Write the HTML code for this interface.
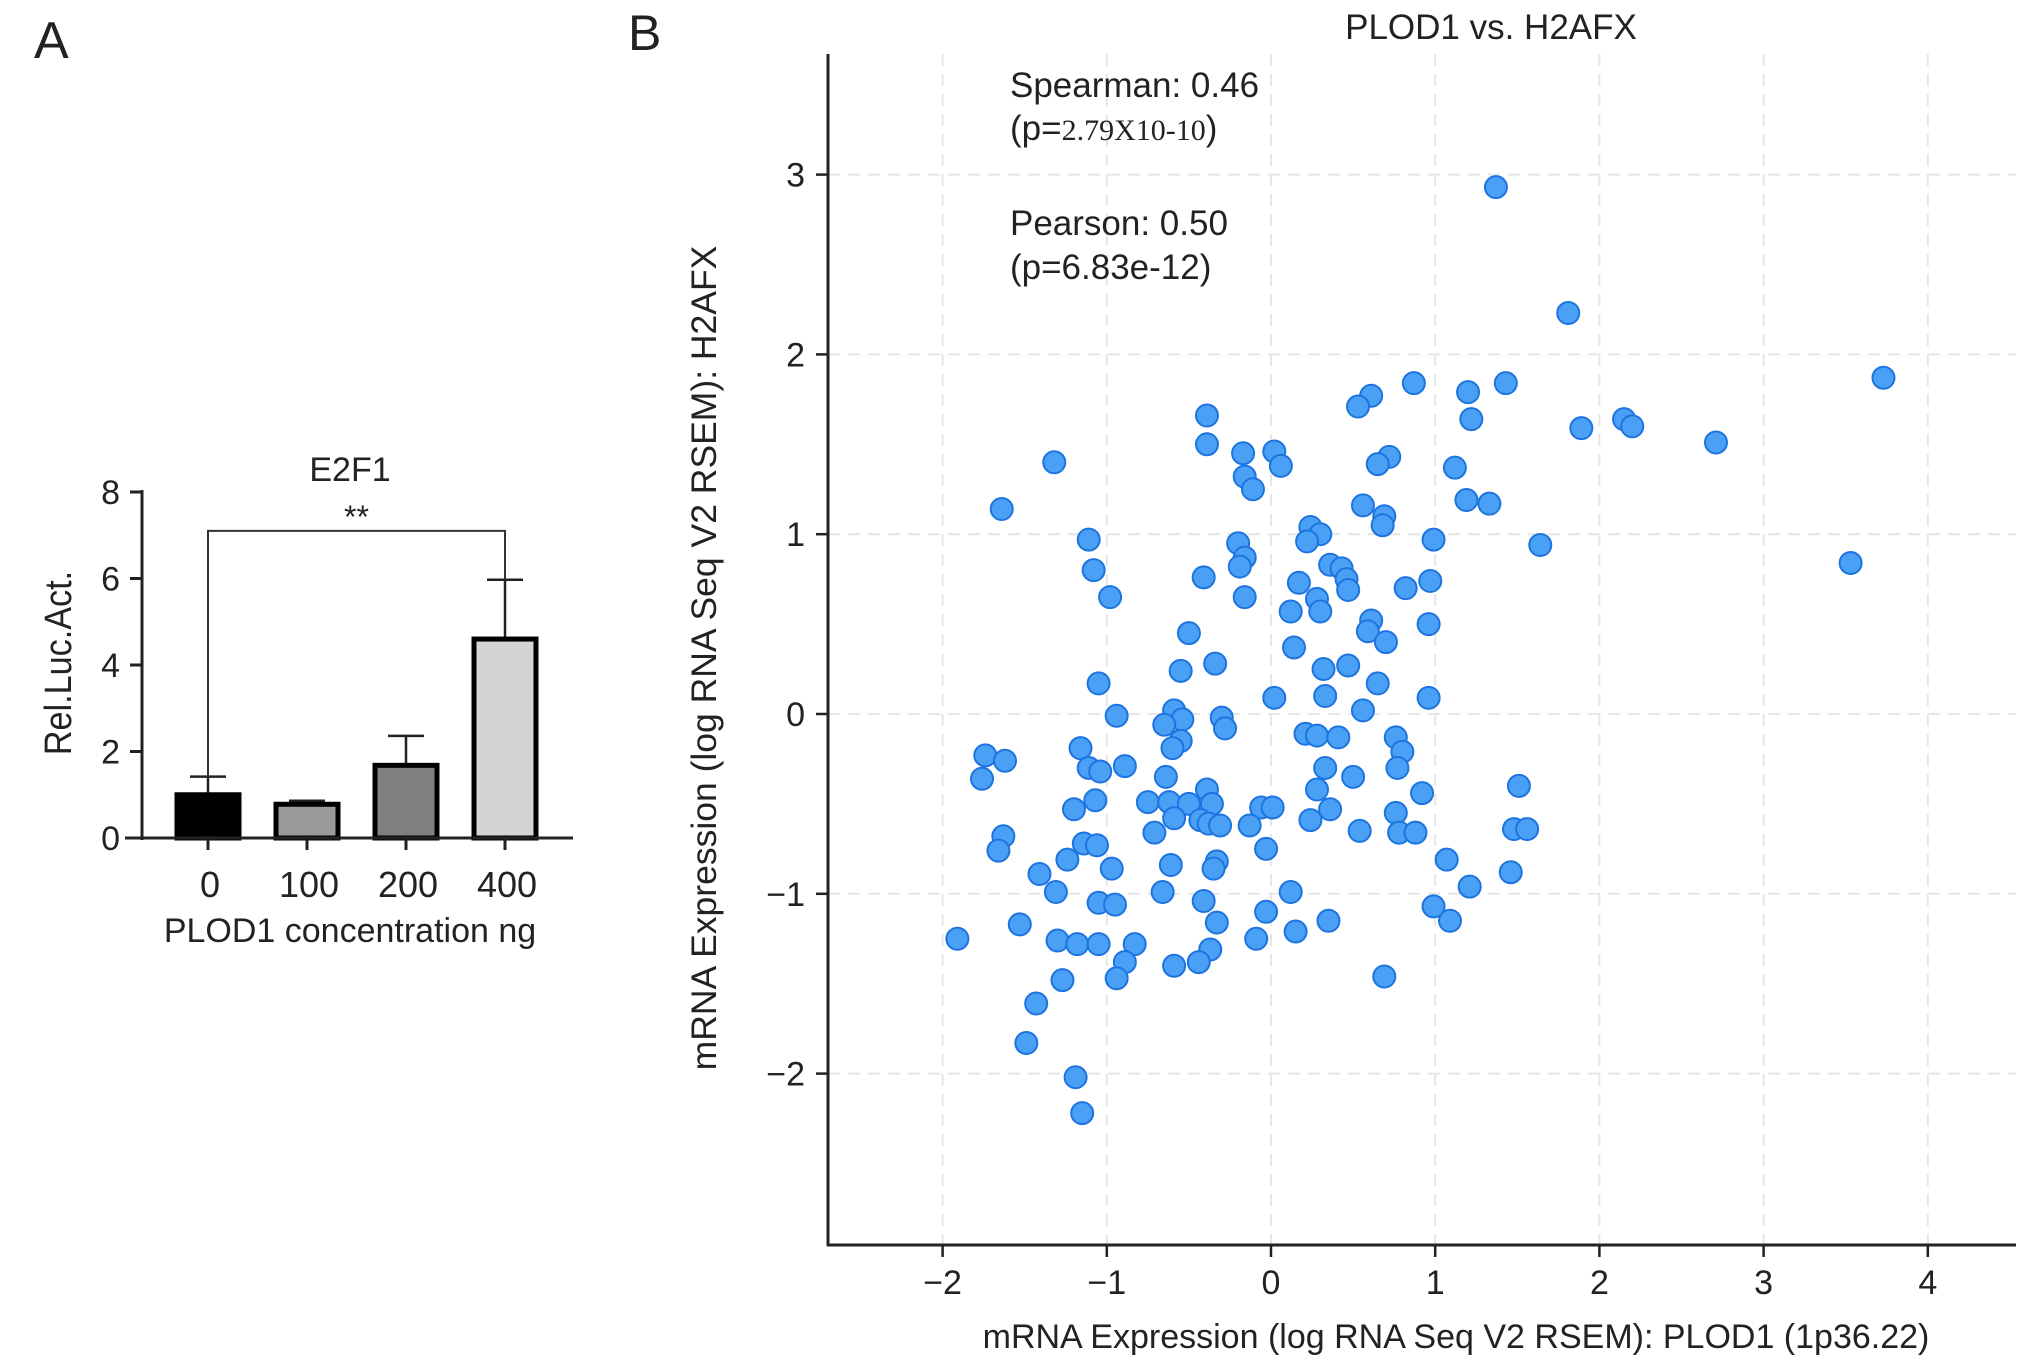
<!DOCTYPE html>
<html><head><meta charset="utf-8"><style>
html,body{margin:0;padding:0;background:#fff}
svg{display:block}
text{font-family:"Liberation Sans",sans-serif;fill:#222}
</style></head><body>
<svg id="fig" width="2031" height="1370" viewBox="0 0 2031 1370">
<text x="34" y="58" font-size="52">A</text>
<text x="628" y="50" font-size="50">B</text>
<g id="bar"></g>
<g id="sc"></g>
</svg>
<script>
const barCats=["0","100","200","400"];
const barVals=[1.0,0.78,1.68,4.6];
const barErr=[0.42,0.08,0.68,1.37];
const barTicks=[0,2,4,6,8];
const scX=[1.37,1.81,3.73,0.87,1.43,1.20,0.61,0.53,1.22,2.15,2.20,1.89,2.71,-0.39,-0.39,-1.32,-0.17,0.02,0.06,-0.16,-0.11,0.72,0.65,1.12,1.19,1.33,0.56,0.69,0.68,-1.64,1.64,3.53,0.24,0.30,0.22,0.99,-1.11,-1.08,-0.98,-0.20,-0.16,-0.19,-0.41,-0.16,0.36,0.43,0.46,0.47,0.97,0.82,0.17,0.28,0.12,0.30,0.61,0.59,0.70,0.96,0.14,-0.50,-0.34,-0.55,0.32,0.47,0.65,-1.05,0.96,0.02,0.33,0.56,-0.94,-0.59,-0.54,-0.30,-0.28,-0.65,-0.55,-0.60,0.21,0.28,0.41,0.76,0.80,0.77,-1.16,-1.74,-1.62,-1.76,-1.11,-1.04,-0.89,0.33,0.50,-0.64,1.51,0.92,-0.39,0.28,-0.75,-0.62,-0.36,-0.50,-1.07,-1.20,-0.06,0.01,0.36,0.76,-0.59,-0.43,-0.38,-0.31,-0.13,0.24,-0.71,0.54,0.78,0.88,1.48,1.56,-1.63,-1.66,-1.14,-1.06,-0.03,-0.33,-0.35,-0.61,-1.24,-0.97,-1.41,1.07,1.46,1.21,-1.31,-0.66,0.12,-1.05,-0.95,-0.41,0.99,-0.03,-1.53,-0.33,0.35,1.09,0.15,-1.91,-1.30,-1.18,-1.05,-0.83,-0.09,-0.37,-0.89,-0.59,-0.44,-0.94,-1.27,0.69,-1.43,-1.49,-1.19,-1.15];
const scY=[2.93,2.23,1.87,1.84,1.84,1.79,1.77,1.71,1.64,1.64,1.60,1.59,1.51,1.66,1.50,1.40,1.45,1.46,1.38,1.32,1.25,1.43,1.39,1.37,1.19,1.17,1.16,1.10,1.05,1.14,0.94,0.84,1.04,1.00,0.96,0.97,0.97,0.80,0.65,0.95,0.87,0.82,0.76,0.65,0.83,0.81,0.75,0.69,0.74,0.70,0.73,0.64,0.57,0.57,0.52,0.46,0.40,0.50,0.37,0.45,0.28,0.24,0.25,0.27,0.17,0.17,0.09,0.09,0.10,0.02,-0.01,0.02,-0.03,-0.02,-0.08,-0.06,-0.15,-0.19,-0.11,-0.12,-0.13,-0.13,-0.21,-0.30,-0.19,-0.23,-0.26,-0.36,-0.30,-0.32,-0.29,-0.30,-0.35,-0.35,-0.40,-0.44,-0.42,-0.42,-0.49,-0.49,-0.50,-0.50,-0.48,-0.53,-0.52,-0.52,-0.53,-0.55,-0.58,-0.59,-0.61,-0.62,-0.62,-0.59,-0.66,-0.65,-0.66,-0.66,-0.64,-0.64,-0.68,-0.76,-0.72,-0.73,-0.75,-0.82,-0.86,-0.84,-0.81,-0.86,-0.89,-0.81,-0.88,-0.96,-0.99,-0.99,-0.99,-1.05,-1.06,-1.04,-1.07,-1.10,-1.17,-1.16,-1.15,-1.15,-1.21,-1.25,-1.26,-1.28,-1.28,-1.28,-1.25,-1.31,-1.38,-1.40,-1.38,-1.47,-1.48,-1.46,-1.61,-1.83,-2.02,-2.22];
const scXTicks=[-2,-1,0,1,2,3,4];
const scYTicks=[-2,-1,0,1,2,3];
const NS="http://www.w3.org/2000/svg";
function mk(p,t,a,txt){const e=document.createElementNS(NS,t);for(const k in a)e.setAttribute(k,a[k]);if(txt!==undefined)e.textContent=txt;p.appendChild(e);return e;}
// ---- bar chart ----
const bg=document.getElementById('bar');
const bY=v=>838-v*(838-492)/8;
const bX=i=>208+i*99;
const barFill=["#000","#9a9a9a","#7f7f7f","#d4d4d4"];
for(const t of barTicks){
 let l=mk(bg,'line',{x1:130,x2:142,y1:bY(t),y2:bY(t),stroke:'#222','stroke-width':3});
 
 let tx=mk(bg,'text',{x:120,y:bY(t)+12,'font-size':34,'text-anchor':'end'},String(t));
 
}
barVals.forEach((v,i)=>{
 const x=bX(i),w=62;
 let ey=mk(bg,'line',{x1:x,x2:x,y1:bY(v),y2:bY(v+barErr[i]),stroke:'#222','stroke-width':2.5});
 
 let ec=mk(bg,'line',{x1:x-18,x2:x+18,y1:bY(v+barErr[i]),y2:bY(v+barErr[i]),stroke:'#222','stroke-width':2.5});
 
 let r=mk(bg,'rect',{x:x-w/2,y:bY(v),width:w,height:bY(0)-bY(v),fill:barFill[i],stroke:'#000','stroke-width':5});
 
 let tk=mk(bg,'line',{x1:x,x2:x,y1:838,y2:850,stroke:'#222','stroke-width':3});
 
 let lb=mk(bg,'text',{x:x+2,y:897,'font-size':36,'text-anchor':'middle'},barCats[i]);
 
});
let ya=mk(bg,'line',{x1:142,x2:142,y1:490,y2:840,stroke:'#222','stroke-width':3});

let xa=mk(bg,'line',{x1:125,x2:573,y1:838,y2:838,stroke:'#222','stroke-width':3});

let br=mk(bg,'polyline',{points:`${bX(0)},${bY(barVals[0]+barErr[0])} ${bX(0)},${bY(7.1)} ${bX(3)},${bY(7.1)} ${bX(3)},${bY(barVals[3]+barErr[3])}`,fill:'none',stroke:'#333','stroke-width':2});

let st=mk(bg,'text',{x:(bX(0)+bX(3))/2,y:528,'font-size':32,'text-anchor':'middle'},'**');

let bt=mk(bg,'text',{x:350,y:481,'font-size':34,'text-anchor':'middle'},'E2F1');

let bxt=mk(bg,'text',{x:350,y:942,'font-size':34,'text-anchor':'middle'},'PLOD1 concentration ng');

let byt=mk(bg,'text',{x:0,y:0,'font-size':38,'text-anchor':'middle',transform:'translate(71,663) rotate(-90) scale(0.9,1)'},'Rel.Luc.Act.');

// ---- scatter ----
const sg=document.getElementById('sc');
const sX=v=>1271+v*164.2;
const sY=v=>714-v*179.8;
for(const t of scXTicks){
 let g=mk(sg,'line',{x1:sX(t),x2:sX(t),y1:54,y2:1245,stroke:'#e6e6e6','stroke-width':2,'stroke-dasharray':'12,8'});
 
 let tk=mk(sg,'line',{x1:sX(t),x2:sX(t),y1:1245,y2:1257,stroke:'#222','stroke-width':2.5});
 
 let lb=mk(sg,'text',{x:sX(t),y:1294,'font-size':34,'text-anchor':'middle'},t<0?'\u2212'+(-t):String(t));
 
}
for(const t of scYTicks){
 let g=mk(sg,'line',{x1:828,x2:2016,y1:sY(t),y2:sY(t),stroke:'#e6e6e6','stroke-width':2,'stroke-dasharray':'12,8'});
 
 let tk=mk(sg,'line',{x1:816,x2:828,y1:sY(t),y2:sY(t),stroke:'#222','stroke-width':2.5});
 
 let lb=mk(sg,'text',{x:805,y:sY(t)+12,'font-size':34,'text-anchor':'end'},t<0?'\u2212'+(-t):String(t));
 
}
let sya=mk(sg,'line',{x1:828,x2:828,y1:54,y2:1246,stroke:'#222','stroke-width':3});

let sxa=mk(sg,'line',{x1:827,x2:2016,y1:1245,y2:1245,stroke:'#222','stroke-width':3});

scX.forEach((x,i)=>{
 let c=mk(sg,'circle',{cx:sX(x),cy:sY(scY[i]),r:11,fill:'#4aa0f5',stroke:'#1d74e0','stroke-width':2});
 
});
let stl=mk(sg,'text',{x:1491,y:39,'font-size':35,'text-anchor':'middle'},'PLOD1 vs. H2AFX');

let a1=mk(sg,'text',{x:1010,y:97,'font-size':35},'Spearman: 0.46');

let a2=mk(sg,'text',{x:1010,y:140,'font-size':35});

mk(a2,'tspan',{},'(p=');
mk(a2,'tspan',{'font-family':'Liberation Serif, serif','font-size':30},'2.79X10-10');
mk(a2,'tspan',{},')');
let a3=mk(sg,'text',{x:1010,y:235,'font-size':35},'Pearson: 0.50');

let a4=mk(sg,'text',{x:1010,y:279,'font-size':35},'(p=6.83e-12)');

let sxt=mk(sg,'text',{x:1456,y:1348,'font-size':34,'text-anchor':'middle'},'mRNA Expression (log RNA Seq V2 RSEM): PLOD1 (1p36.22)');

let syt=mk(sg,'text',{x:0,y:0,'font-size':35.5,'text-anchor':'middle',transform:'translate(716,658) rotate(-90)'},'mRNA Expression (log RNA Seq V2 RSEM): H2AFX');

</script>
</body></html>
